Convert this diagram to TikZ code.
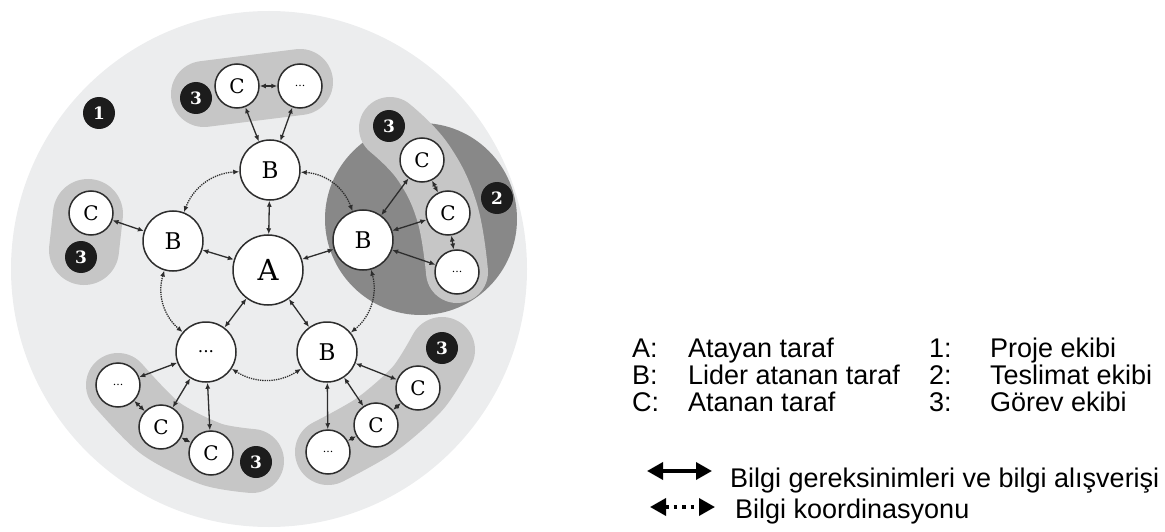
\documentclass[tikz,border=0pt]{standalone}
\usepackage{fontspec}
\setmainfont{Liberation Sans}
\newfontfamily\nodefont{DejaVu Serif}
\usetikzlibrary{arrows.meta}
\definecolor{bgc}{RGB}{236,237,238}
\definecolor{grp}{RGB}{198,198,198}
\definecolor{dlv}{RGB}{136,136,136}
\definecolor{edgec}{RGB}{45,45,45}
\definecolor{badgec}{RGB}{28,28,28}
\begin{document}
\begin{tikzpicture}[x=1pt,y=-1pt,
  base/.style={circle,draw=edgec,line width=1.5pt,fill=white,inner sep=0pt},
  nA/.style={base,minimum size=70pt,font=\nodefont\fontsize{29}{29}\selectfont},
  nB/.style={base,minimum size=60pt,font=\nodefont\fontsize{23}{23}\selectfont},
  nDB/.style={base,minimum size=60pt,font=\nodefont\fontsize{17}{17}\selectfont},
  nC/.style={base,minimum size=44pt,font=\nodefont\fontsize{20}{20}\selectfont},
  nD/.style={base,minimum size=44pt,font=\nodefont\fontsize{11}{11}\selectfont},
  badge/.style={circle,fill=badgec,minimum size=32pt,inner sep=0pt,text=white,font=\nodefont\bfseries\fontsize{17}{17}\selectfont},
  grpband/.style={draw=grp,line width=66pt,line cap=round,line join=round},
  conn/.style={draw=edgec,line width=1.3pt,arrows={Latex[length=6pt,width=5pt]-Latex[length=6pt,width=5pt]}},
  coord/.style={conn,densely dotted},
  leg/.style={inner sep=0pt,font=\fontsize{27}{27}\selectfont},
  legarrow/.style={draw=black,line width=3.5pt,arrows={Triangle[length=16pt,width=17pt]-Triangle[length=16pt,width=17pt]}}
]
\useasboundingbox (0,0) rectangle (1165,532);
% backgrounds
\fill[bgc] (269,269) circle[radius=258];
\fill[dlv] (421,219) circle[radius=96];
% group bands
\draw[grpband] (204,94) -- (300,82);
\draw[grpband,line width=70pt] (88,214) -- (84,250);
\draw[grpband,line width=62pt] plot[smooth,tension=0.7] coordinates {(390,128) (423,162) (447,212) (457,272)};
\draw[grpband,line width=64pt] plot[smooth] coordinates {(118,385) (160,428) (211,454) (252,461)};
\draw[grpband,line width=66pt] plot[smooth] coordinates {(328,452) (376,425) (418,388) (442,350)};
% nodes
\node[nA] (A) at (268,270) {A};
\node[nB] (Bt) at (270,170) {B};
\node[nB] (Bl) at (173,241) {B};
\node[nB] (Br) at (363,240) {B};
\node[nDB] (Dbl) at (206,352) {...};
\node[nB] (Bbr) at (327,352) {B};
\node[nC] (Ct) at (237,86) {C};
\node[nD] (Dt) at (300,86) {...};
\node[nC] (Cl) at (91,213) {C};
\node[nC] (Cr1) at (422,160) {C};
\node[nC] (Cr2) at (448,213) {C};
\node[nD] (Dr) at (457,272) {...};
\node[nD] (Ds) at (118,385) {...};
\node[nC] (Cb1) at (161,427) {C};
\node[nC] (Cb2) at (211,453) {C};
\node[nC] (Cc1) at (418,388) {C};
\node[nC] (Cc2) at (376,425) {C};
\node[nD] (Dc) at (328,452) {...};
% badges
\node[badge] (b1) at (99,113) {1};
\node[badge] (b3t) at (196,98) {3};
\node[badge] (b3l) at (81,257) {3};
\node[badge] (b3r) at (389,126) {3};
\node[badge] (b2) at (497,198) {2};
\node[badge] (b3bl) at (256,462) {3};
\node[badge] (b3br) at (442,348) {3};
% solid connectors
\draw[conn] (A) -- (Bt);
\draw[conn] (A) -- (Bl);
\draw[conn] (A) -- (Br);
\draw[conn] (A) -- (Dbl);
\draw[conn] (A) -- (Bbr);
\draw[conn] (Bt) -- (Ct);
\draw[conn] (Bt) -- (Dt);
\draw[conn] (Ct) -- (Dt);
\draw[conn] (Bl) -- (Cl);
\draw[conn] (Br) -- (Cr1);
\draw[conn] (Br) -- (Cr2);
\draw[conn] (Br) -- (Dr);
\draw[conn] (Cr1) -- (Cr2);
\draw[conn] (Cr2) -- (Dr);
\draw[conn] (Dbl) -- (Ds);
\draw[conn] (Dbl) -- (Cb1);
\draw[conn] (Dbl) -- (Cb2);
\draw[conn] (Ds) -- (Cb1);
\draw[conn] (Cb1) -- (Cb2);
\draw[conn] (Bbr) -- (Cc1);
\draw[conn] (Bbr) -- (Cc2);
\draw[conn] (Bbr) -- (Dc);
\draw[conn] (Cc1) -- (Cc2);
\draw[conn] (Cc2) -- (Dc);
% dotted coordination arcs
\draw[coord] (Bt) to[bend right=33] (Bl);
\draw[coord] (Bl) to[bend right=33] (Dbl);
\draw[coord] (Dbl) to[bend right=33] (Bbr);
\draw[coord] (Bbr) to[bend right=33] (Br);
\draw[coord] (Br) to[bend right=33] (Bt);
% legend
\node[leg,anchor=base west] (kA) at (632,357) {A:};
\node[leg,anchor=base west] (tA) at (688,357) {Atayan taraf};
\node[leg,anchor=base west] (kB) at (632,384) {B:};
\node[leg,anchor=base west] (tB) at (688,384) {Lider atanan taraf};
\node[leg,anchor=base west] (kC) at (632,411) {C:};
\node[leg,anchor=base west] (tC) at (688,411) {Atanan taraf};
\node[leg,anchor=base west] (k1) at (929,357) {1:};
\node[leg,anchor=base west] (t1) at (990,357) {Proje ekibi};
\node[leg,anchor=base west] (k2) at (929,384) {2:};
\node[leg,anchor=base west] (t2) at (990,384) {Teslimat ekibi};
\node[leg,anchor=base west] (k3) at (929,411) {3:};
\node[leg,anchor=base west] (t3) at (990,411) {Görev ekibi};
\coordinate (l1a) at (647,471);
\coordinate (l1b) at (712,471);
\draw[legarrow] (l1a) -- (l1b);
\node[leg,anchor=base west] (g1) at (730,487) {Bilgi gereksinimleri ve bilgi alışverişi};
\coordinate (l2a) at (650,507);
\coordinate (l2b) at (715,507);
\draw[legarrow,dash pattern=on 3.5pt off 5pt] (l2a) -- (l2b);
\node[leg,anchor=base west] (g2) at (735,518) {Bilgi koordinasyonu};
\end{tikzpicture}
\end{document}
